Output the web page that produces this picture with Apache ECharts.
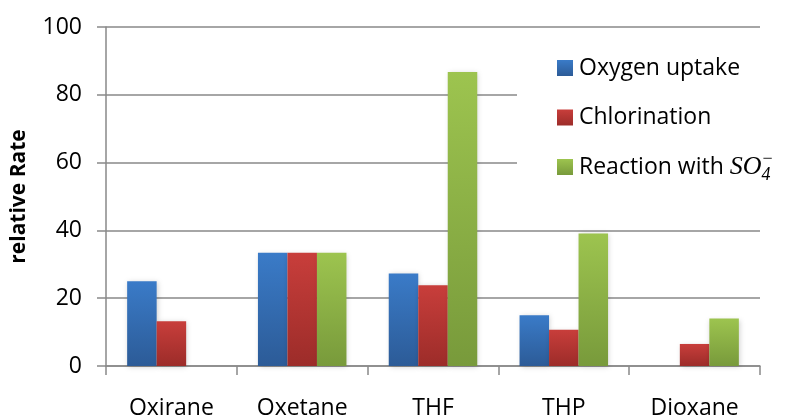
<!DOCTYPE html>
<html>
<head>
<meta charset="utf-8">
<script src="https://cdn.jsdelivr.net/npm/echarts@6/dist/echarts.min.js"></script>
<style>
  html, body { margin: 0; padding: 0; background: #fff; }
  #chart { width: 787px; height: 420px; }
</style>
</head>
<body>
<div id="chart"></div>
<script>
// Relative reaction rates of cyclic ethers
const categories = ['Oxirane', 'Oxetane', 'THF', 'THP', 'Dioxane'];
const oxygenUptake = [25, 33.4, 27.3, 15, null];
const chlorination = [13.2, 33.4, 23.8, 10.7, 6.5];
const sulfateReaction = [null, 33.4, 86.7, 39.1, 14.0];
const yTicks = [0, 20, 40, 60, 80, 100];

const seriesNames = ['Oxygen uptake', 'Chlorination', 'Reaction with SO4-'];

const FONT = '"Open Sans", "Noto Sans", sans-serif';
const MATH_FONT = '"Liberation Serif", "DejaVu Serif", serif';
const AXIS_GRAY = '#898989';

function vGrad(top, bottom) {
  return new echarts.graphic.LinearGradient(0, 0, 0, 1, [
    { offset: 0, color: top },
    { offset: 1, color: bottom }
  ]);
}

const palette = [
  ['#3a7bc8', '#2c5b97'],
  ['#c83e3b', '#9c2c29'],
  ['#9dc44f', '#789a3b']
];

function barSeries(name, data, colors) {
  return {
    name: name,
    type: 'bar',
    data: data,
    barWidth: 29.5,
    barGap: '0%',
    itemStyle: {
      color: vGrad(colors[0], colors[1]),
      shadowColor: 'rgba(0,0,0,0.18)',
      shadowBlur: 5,
      shadowOffsetX: 1,
      shadowOffsetY: 1
    },
    emphasis: { disabled: true }
  };
}

const chart = echarts.init(document.getElementById('chart'), null, { renderer: 'canvas' });

chart.setOption({
  animation: false,
  backgroundColor: '#ffffff',
  grid: { left: 106, right: 27, top: 27, bottom: 53 },
  legend: {
    orient: 'vertical',
    left: 517,
    top: 37,
    padding: [14, 40, 14, 40],
    backgroundColor: '#ffffff',
    itemWidth: 16,
    itemHeight: 16,
    itemGap: 15.5,
    icon: 'rect',
    data: seriesNames,
    formatter: function (name) {
      if (name === 'Reaction with SO4-') {
        return '{t|Reaction with }{m|SO}{s|4}{p|\u2212}';
      }
      return '{t|' + name + '}';
    },
    textStyle: {
      padding: [0, 0, 0, 1],
      rich: {
        t: { fontFamily: FONT, fontSize: 23, color: '#000', lineHeight: 34, height: 34 },
        m: { fontFamily: MATH_FONT, fontStyle: 'italic', fontSize: 26, color: '#000', lineHeight: 34, height: 34 },
        s: { fontFamily: MATH_FONT, fontStyle: 'italic', fontSize: 18, color: '#000', lineHeight: 18, height: 18, verticalAlign: 'bottom', width: 1 },
        p: { fontFamily: MATH_FONT, fontSize: 18, color: '#000', lineHeight: 18, height: 18, verticalAlign: 'top' }
      }
    }
  },
  xAxis: {
    type: 'category',
    data: categories,
    boundaryGap: true,
    axisLine: { show: true, lineStyle: { color: AXIS_GRAY, width: 1.5 } },
    axisTick: { show: true, length: 9, alignWithLabel: false, lineStyle: { color: AXIS_GRAY, width: 1.5 } },
    axisLabel: { fontFamily: FONT, fontSize: 23, color: '#000', margin: 31 },
    splitLine: { show: false }
  },
  yAxis: {
    type: 'value',
    min: yTicks[0],
    max: yTicks[yTicks.length - 1],
    interval: yTicks[1] - yTicks[0],
    name: 'relative Rate',
    nameLocation: 'middle',
    nameRotate: 90,
    nameGap: 76,
    nameTextStyle: { fontFamily: FONT, fontSize: 21, fontWeight: 'bold', color: '#000' },
    axisLine: { show: true, lineStyle: { color: AXIS_GRAY, width: 1.5 } },
    axisTick: { show: true, length: 9, lineStyle: { color: AXIS_GRAY, width: 1.5 } },
    axisLabel: { fontFamily: FONT, fontSize: 23, color: '#000', margin: 24 },
    splitLine: { show: true, lineStyle: { color: AXIS_GRAY, width: 1.5 } }
  },
  series: [
    barSeries(seriesNames[0], oxygenUptake, palette[0]),
    barSeries(seriesNames[1], chlorination, palette[1]),
    barSeries(seriesNames[2], sulfateReaction, palette[2])
  ]
});
</script>
</body>
</html>
